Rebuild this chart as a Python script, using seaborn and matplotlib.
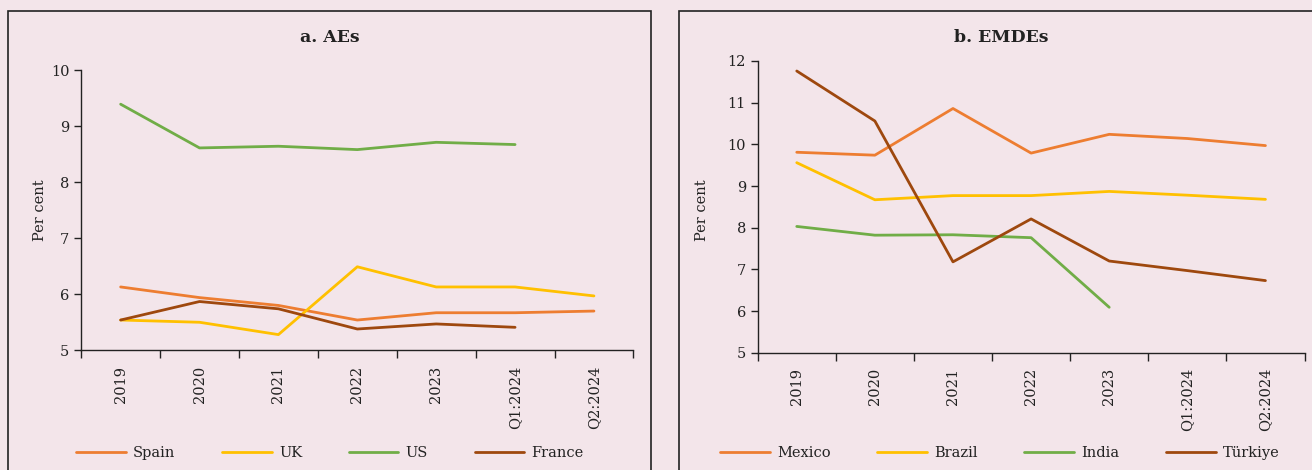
import numpy as np
import pandas as pd
import matplotlib
matplotlib.use("Agg")
import matplotlib.pyplot as plt
from matplotlib.patches import Rectangle
import seaborn as sns

# ----------------------------
# Datos
periodos = ["2019", "2020", "2021", "2022", "2023", "Q1:2024", "Q2:2024"]

# a. AEs
spain = [6.13, 5.94, 5.80, 5.54, 5.67, 5.67, 5.70]
uk = [5.54, 5.50, 5.28, 6.49, 6.13, 6.13, 5.97]
us = [9.39, 8.61, 8.64, 8.58, 8.71, 8.67, np.nan]
france = [5.54, 5.87, 5.74, 5.38, 5.47, 5.41, np.nan]

# b. EMDEs
mexico = [9.81, 9.74, 10.86, 9.79, 10.24, 10.14, 9.97]
brazil = [9.56, 8.67, 8.77, 8.77, 8.87, 8.78, 8.68]
india = [8.03, 7.82, 7.83, 7.76, 6.09, np.nan, np.nan]
turkiye = [11.76, 10.56, 7.18, 8.21, 7.20, 6.97, 6.73]

colores = ["#ED7D31", "#FFC000", "#70AD47", "#9E480E"]
fondo = "#F3E5EA"

ae_series = {"Spain": spain, "UK": uk, "US": us, "France": france}
em_series = {"Mexico": mexico, "Brazil": brazil, "India": india, "Türkiye": turkiye}


def a_largo(series):
    filas = []
    for nombre, valores in series.items():
        for p, v in zip(periodos, valores):
            filas.append({"periodo": p, "valor": v, "pais": nombre})
    return pd.DataFrame(filas)


sns.set_theme(style="ticks")
plt.rcParams["font.family"] = ["DejaVu Serif"]
plt.rcParams["axes.linewidth"] = 1.0

fig = plt.figure(figsize=(13.12, 4.70), dpi=100, facecolor=fondo)

# Marcos de los paneles
W, H = 1312, 470
for x0, x1 in [(8, 651), (679, 1330)]:
    fig.patches.append(Rectangle((x0 / W, -0.1), (x1 - x0) / W, (H - 11) / H + 0.1,
                                 transform=fig.transFigure, fill=False,
                                 edgecolor="#222222", linewidth=1.2))

paneles = [
    dict(series=ae_series, pos=[81.2 / W, 1 - 350.3 / H, 552.2 / W, 280.3 / H],
         ylim=(5, 10), titulo="a. AEs", tx=330, lx=40, legx=330),
    dict(series=em_series, pos=[757.7 / W, 1 - 352.7 / H, 546.8 / W, 291.7 / H],
         ylim=(5, 12), titulo="b. EMDEs", tx=1001, lx=702, legx=1000),
]

for p in paneles:
    ax = fig.add_axes(p["pos"])
    ax.set_facecolor(fondo)
    df = a_largo(p["series"])
    sns.lineplot(data=df, x="periodo", y="valor", hue="pais", palette=colores,
                 linewidth=2.0, sort=False, ax=ax)
    ax.set_xlim(-0.5, len(periodos) - 0.5)
    ax.set_ylim(*p["ylim"])
    ax.set_yticks(range(p["ylim"][0], p["ylim"][1] + 1))
    ax.set_xticks(range(len(periodos)))
    ax.set_xticklabels(periodos, rotation=90)
    ax.set_xticks(np.arange(-0.5, len(periodos)), minor=True)
    ax.tick_params(axis="x", which="major", length=0, pad=11, labelsize=10.5, colors="#222222")
    ax.tick_params(axis="x", which="minor", length=6, width=1.0, color="#222222")
    ax.tick_params(axis="y", length=5, width=1.0, labelsize=10.5, colors="#222222")
    for lado in ["top", "right"]:
        ax.spines[lado].set_visible(False)
    for lado in ["left", "bottom"]:
        ax.spines[lado].set_color("#222222")
    ax.set_xlabel("")
    ax.set_ylabel("")
    fig.text(p["lx"] / W, 1 - 210 / H, "Per cent", rotation=90, ha="center", va="center",
             fontsize=10.5, color="#222222")
    fig.text(p["tx"] / W, 1 - 38 / H, p["titulo"], ha="center", va="center",
             fontsize=12.5, fontweight="bold", color="#222222")
    handles, labels = ax.get_legend_handles_labels()
    ax.legend(handles, labels, loc="center", bbox_to_anchor=(p["legx"] / W, 1 - 453 / H),
              bbox_transform=fig.transFigure, ncol=4, frameon=False, fontsize=10.5,
              handlelength=3.4, handletextpad=0.5, columnspacing=3.2,
              labelcolor="#222222")

fig.savefig("out.png", dpi=100, facecolor=fondo)
